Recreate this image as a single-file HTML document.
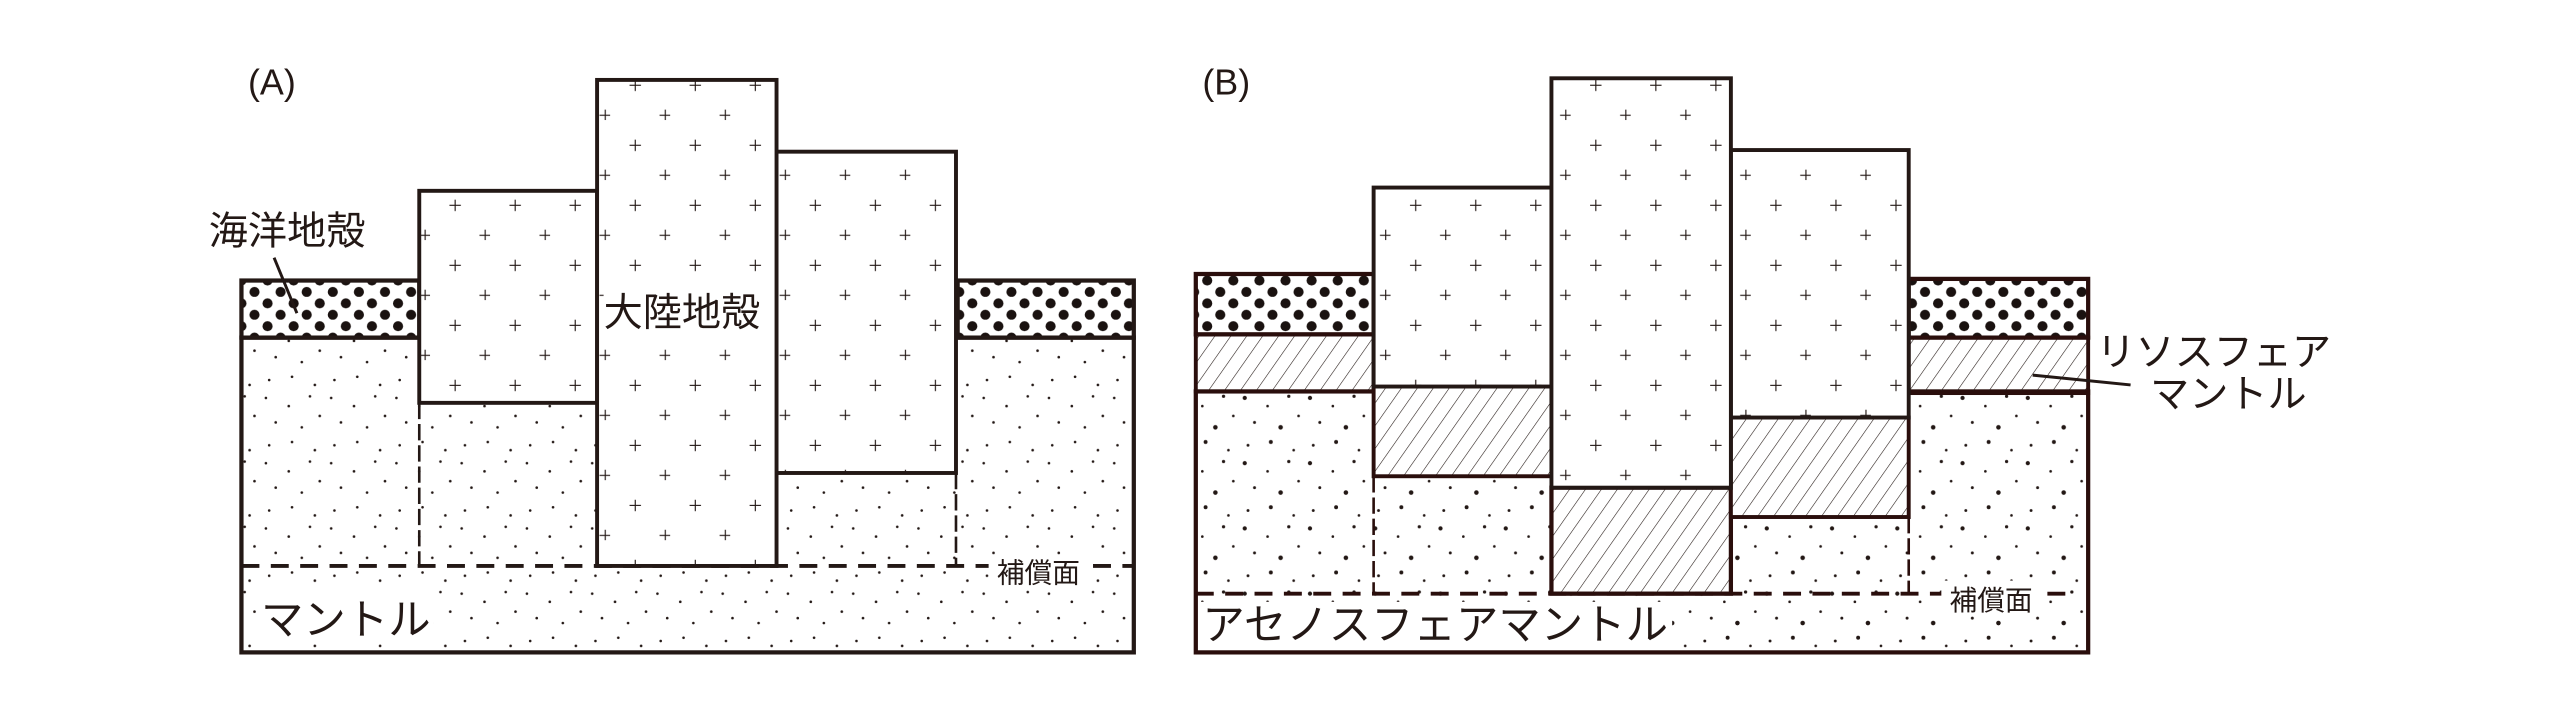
<!DOCTYPE html>
<html><head><meta charset="utf-8"><style>
html,body{margin:0;padding:0;background:#fff;}
svg{display:block;}
text{font-family:"Liberation Sans","Noto Sans CJK JP",sans-serif;fill:#231815;}
</style></head><body>
<svg width="2558" height="716" viewBox="0 0 1568 439" preserveAspectRatio="none" xmlns="http://www.w3.org/2000/svg">
<defs>
<pattern id="plus" width="36.8" height="36.8" patternUnits="userSpaceOnUse" x="6" y="0">
 <g stroke="#231815" stroke-width="0.7">
  <path d="M15.4 12v7M11.9 15.5h7"/>
  <path d="M33.8 30.4v7M30.3 33.9h7"/>
 </g>
</pattern>
<pattern id="ocean" width="16" height="14" patternUnits="userSpaceOnUse">
 <g fill="#1a1210">
  <circle cx="4" cy="4" r="3.1"/><circle cx="12" cy="11" r="3.1"/>
 </g>
</pattern>
<pattern id="stip" width="40" height="40" patternUnits="userSpaceOnUse">
 <g fill="#231815">
  <circle cx="3" cy="4" r="0.8"/><circle cx="17" cy="9" r="0.8"/><circle cx="30" cy="3" r="0.8"/>
  <circle cx="9" cy="19" r="0.8"/><circle cx="25" cy="22" r="0.8"/><circle cx="36" cy="15" r="0.8"/>
  <circle cx="5" cy="33" r="0.8"/><circle cx="19" cy="31" r="0.8"/><circle cx="33" cy="36" r="0.8"/>
 </g>
</pattern>
<pattern id="stipB" width="40" height="40" patternUnits="userSpaceOnUse">
 <g fill="#231815">
  <circle cx="3" cy="4" r="1.3"/><circle cx="17" cy="9" r="0.8"/><circle cx="30" cy="3" r="1"/>
  <circle cx="9" cy="19" r="0.9"/><circle cx="25" cy="22" r="1.4"/><circle cx="36" cy="15" r="0.8"/>
  <circle cx="5" cy="33" r="0.9"/><circle cx="19" cy="31" r="1.2"/><circle cx="33" cy="36" r="0.8"/>
 </g>
</pattern>
<pattern id="hatch" width="8" height="8" patternUnits="userSpaceOnUse" patternTransform="rotate(35)">
 <path d="M0 0V8" stroke="#231815" stroke-width="0.7"/>
</pattern>
</defs>

<!-- Panel A -->
<text x="152" y="58" font-size="22">(A)</text>
<rect x="148" y="207" width="547" height="193" fill="url(#stip)" stroke="#231815" stroke-width="2.6"/>
<rect x="148" y="172" width="109" height="35" fill="url(#ocean)" stroke="#231815" stroke-width="2.6"/>
<rect x="587" y="172" width="108" height="35" fill="url(#ocean)" stroke="#231815" stroke-width="2.6"/>
<rect x="257" y="117" width="109" height="130" fill="#fff" stroke="#231815" stroke-width="2.4"/>
<rect x="257" y="117" width="109" height="130" fill="url(#plus)"/>
<rect x="476" y="93" width="110" height="197" fill="#fff" stroke="#231815" stroke-width="2.4"/>
<rect x="476" y="93" width="110" height="197" fill="url(#plus)"/>
<rect x="366" y="49" width="110" height="298" fill="#fff" stroke="#231815" stroke-width="2.4"/>
<rect x="366" y="49" width="110" height="298" fill="url(#plus)"/>
<path d="M148 347H695" stroke="#231815" stroke-width="2.4" stroke-dasharray="11 7"/>
<path d="M257 247V347M586 290V347" stroke="#231815" stroke-width="1.6" stroke-dasharray="10 3"/>
<rect x="370" y="174" width="100" height="30" fill="#fff"/>
<text x="370" y="200" font-size="24">大陸地殻</text>
<text x="128" y="150" font-size="24">海洋地殻</text>
<path d="M168 158L182 192" stroke="#231815" stroke-width="1.8"/>
<rect x="158" y="362" width="108" height="32" fill="#fff"/>
<text x="160" y="389" font-size="26">マントル</text>
<rect x="606" y="340" width="60" height="22" fill="#fff"/>
<text x="611" y="357" font-size="17">補償面</text>

<!-- Panel B -->
<text x="737" y="58" font-size="22">(B)</text>
<rect x="733" y="240" width="547" height="160" fill="url(#stipB)" stroke="#2a0e0c" stroke-width="2.6"/>
<rect x="733" y="168" width="109" height="37" fill="url(#ocean)" stroke="#2a0e0c" stroke-width="2.6"/>
<rect x="733" y="205" width="109" height="35" fill="url(#hatch)" stroke="#2a0e0c" stroke-width="2.4"/>
<rect x="1170" y="171" width="110" height="36" fill="url(#ocean)" stroke="#2a0e0c" stroke-width="2.6"/>
<rect x="1170" y="207" width="110" height="34" fill="url(#hatch)" stroke="#2a0e0c" stroke-width="2.4"/>
<rect x="842" y="237" width="109" height="55" fill="#fff"/>
<rect x="842" y="237" width="109" height="55" fill="url(#hatch)" stroke="#2a0e0c" stroke-width="2.4"/>
<rect x="951" y="299" width="110" height="65" fill="#fff"/>
<rect x="951" y="299" width="110" height="65" fill="url(#hatch)" stroke="#2a0e0c" stroke-width="2.6"/>
<rect x="1061" y="256" width="109" height="61" fill="#fff"/>
<rect x="1061" y="256" width="109" height="61" fill="url(#hatch)" stroke="#2a0e0c" stroke-width="2.4"/>
<rect x="842" y="115" width="109" height="122" fill="#fff" stroke="#231815" stroke-width="2.4"/>
<rect x="842" y="115" width="109" height="122" fill="url(#plus)"/>
<rect x="1061" y="92" width="109" height="164" fill="#fff" stroke="#231815" stroke-width="2.4"/>
<rect x="1061" y="92" width="109" height="164" fill="url(#plus)"/>
<rect x="951" y="48" width="110" height="251" fill="#fff" stroke="#231815" stroke-width="2.4"/>
<rect x="951" y="48" width="110" height="251" fill="url(#plus)"/>
<path d="M733 364H1270" stroke="#2a0e0c" stroke-width="2.4" stroke-dasharray="11 7"/>
<path d="M842 292V364M1170 317V364" stroke="#2a0e0c" stroke-width="1.6" stroke-dasharray="10 3"/>
<rect x="735" y="369" width="290" height="28" fill="#fff"/>
<text x="737" y="392" font-size="26">アセノスフェアマントル</text>
<rect x="1190" y="356" width="62" height="22" fill="#fff"/>
<text x="1195" y="374" font-size="17">補償面</text>
<text x="1285" y="224" font-size="24">リソスフェア</text>
<text x="1318" y="250" font-size="24">マントル</text>
<path d="M1246 230L1306 236" stroke="#231815" stroke-width="1.8"/>
</svg>
</body></html>
